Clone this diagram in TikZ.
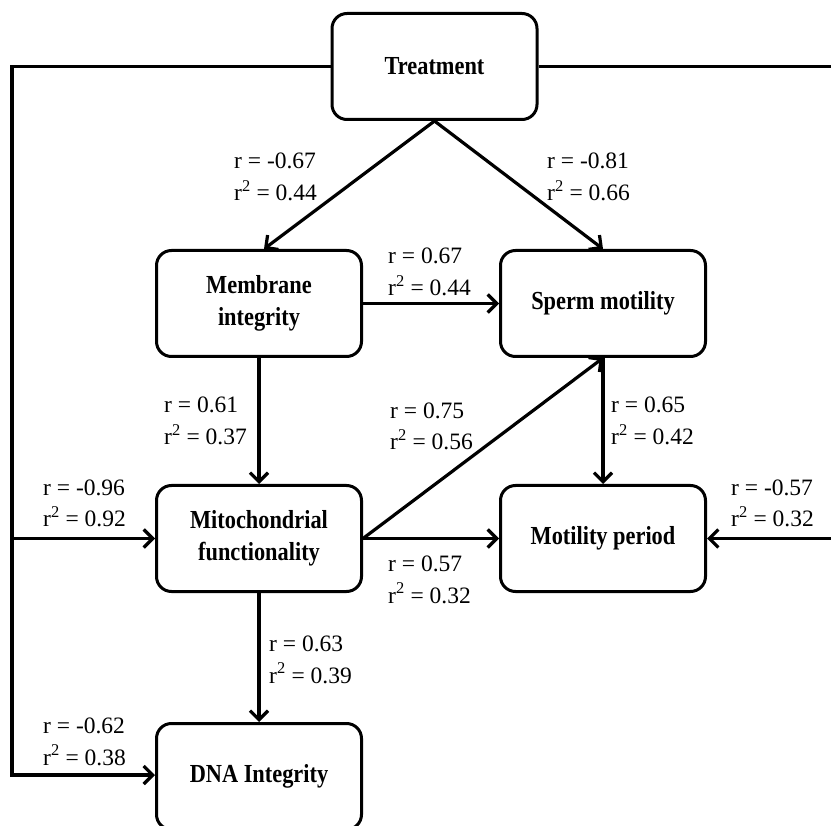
\documentclass[tikz,border=0pt]{standalone}
\usepackage{fontspec}
\setmainfont{Liberation Serif}
\newfontfamily\boxfont[FakeStretch=0.86]{Liberation Serif}
\usetikzlibrary{arrows.meta}

\newcommand{\rlabel}[2]{r = #1\\r\textsuperscript{2} = #2}

\begin{document}
\begin{tikzpicture}[x=1pt,y=-1pt,
  box/.style={draw, line width=3pt, rounded corners=15pt, minimum width=205pt, minimum height=106pt,
    inner sep=0pt, align=center, font=\boxfont\fontsize{26}{32}\selectfont\bfseries},
  arr/.style={line width=3.2pt, -{Straight Barb[length=9pt,width=18pt]}},
  lbl/.style={anchor=base west, align=left, inner sep=0pt, font=\fontsize{23.5}{32}\selectfont}]
  \useasboundingbox (0,0) rectangle (831,826);
  \node[box] (treat) at (434.5,66.5) {Treatment};
  \node[box] (memb) at (259,303.5) {Membrane\\integrity};
  \node[box] (sperm) at (603,303.5) {Sperm motility};
  \node[box] (mito) at (259,538.5) {Mitochondrial\\functionality};
  \node[box] (period) at (603,538.5) {Motility period};
  \node[box] (dna) at (259,776.5) {DNA Integrity};
  % loops round the outside, the right one runs off the page
  \coordinate (lmid) at (12,538.5);
  \coordinate (lbot) at (12,775);
  \coordinate (rmid) at (850,538.5);
  \draw[arr] (treat.west) -| (lbot) -- (lbot -| dna.west);
  \draw[arr] (lmid) -- (mito.west);
  \draw[arr] (treat.east) -| (rmid) -- (period.east);
  \draw[arr] (treat.south) -- ([xshift=5pt]memb.north);
  \draw[arr] (treat.south) -- (sperm.north);
  \draw[arr] (memb.east) -- (sperm.west);
  \draw[arr] (memb.south) -- (mito.north);
  \draw[arr] (mito.east) -- (sperm.south);
  \draw[arr] (sperm.south) -- (period.north);
  \draw[arr] (mito.east) -- (period.west);
  \draw[arr] (mito.south) -- (dna.north);
  % r and r^2 values, placed at the baseline of the r^2 line
  \node[lbl] (t-memb) at (234,201) {\rlabel{-0.67}{0.44}};
  \node[lbl] (t-sperm) at (547,201) {\rlabel{-0.81}{0.66}};
  \node[lbl] (memb-sperm) at (388,296) {\rlabel{0.67}{0.44}};
  \node[lbl] (memb-mito) at (164,445) {\rlabel{0.61}{0.37}};
  \node[lbl] (mito-sperm) at (390,450) {\rlabel{0.75}{0.56}};
  \node[lbl] (sperm-period) at (611,445) {\rlabel{0.65}{0.42}};
  \node[lbl] (mito-period) at (388,603) {\rlabel{0.57}{0.32}};
  \node[lbl] (t-mito) at (43,527) {\rlabel{-0.96}{0.92}};
  \node[lbl] (t-period) at (731,527) {\rlabel{-0.57}{0.32}};
  \node[lbl] (mito-dna) at (269,683) {\rlabel{0.63}{0.39}};
  \node[lbl] (t-dna) at (43,765) {\rlabel{-0.62}{0.38}};
\end{tikzpicture}
\end{document}
